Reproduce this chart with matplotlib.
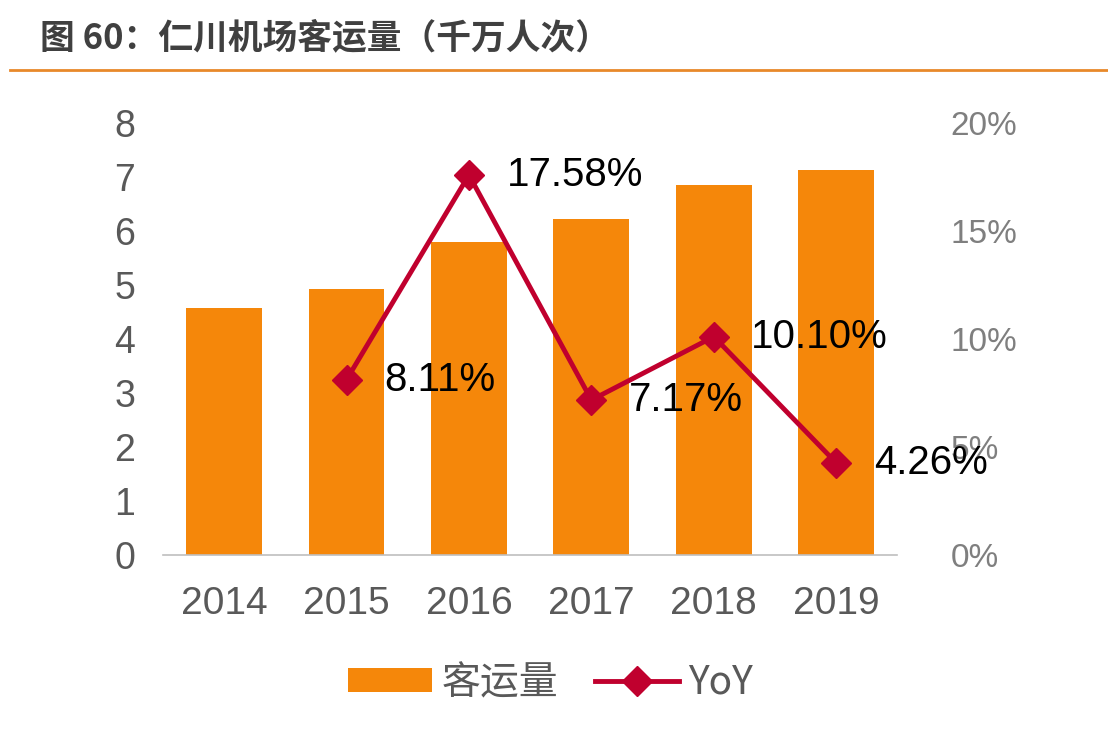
import matplotlib
matplotlib.use("Agg")
import matplotlib.pyplot as plt
from matplotlib.lines import Line2D
from matplotlib.patches import Patch

plt.rcParams['font.family'] = ['Noto Sans CJK SC', 'DejaVu Sans']

years = ["2014", "2015", "2016", "2017", "2018", "2019"]
passengers = [4.57, 4.93, 5.80, 6.22, 6.85, 7.13]
yoy_years = ["2015", "2016", "2017", "2018", "2019"]
yoy = [8.11, 17.58, 7.17, 10.10, 4.26]
left_ticks = [0, 1, 2, 3, 4, 5, 6, 7, 8]
right_ticks = [0, 5, 10, 15, 20]

bar_color = "#F5870A"
line_color = "#C0002E"
tick_gray = "#595959"
arial = "Liberation Sans"

fig = plt.figure(figsize=(11.08, 7.48), dpi=100)
ax = fig.add_axes([0.147, 0.258, 0.663, 0.578])
ax2 = ax.twinx()

x = list(range(len(years)))
ax.bar(x, passengers, width=0.62, color=bar_color, zorder=2)
ax.set_xlim(-0.5, 5.5)
ax.set_ylim(0, 8)
ax.set_yticks(left_ticks)
ax.set_yticklabels([str(t) for t in left_ticks], fontsize=27, color=tick_gray, family=arial)
ax.set_xticks(x)
ax.set_xticklabels(years, fontsize=28, color=tick_gray, family=arial)
ax.tick_params(axis='both', length=0)
ax.tick_params(axis='x', pad=22)
ax.tick_params(axis='y', pad=20)
for s in ['top', 'left', 'right']:
    ax.spines[s].set_visible(False)
ax.spines['bottom'].set_color("#BFBFBF")
ax.spines['bottom'].set_linewidth(1.2)

xl = [years.index(y) for y in yoy_years]
ax2.plot(xl, yoy, color=line_color, lw=3.5, marker='D', markersize=15, zorder=3)
ax2.set_ylim(0, 20)
ax2.set_yticks(right_ticks)
ax2.set_yticklabels([f"{t}%" for t in right_ticks], fontsize=24, color="#7F7F7F", family=arial)
ax2.tick_params(axis='y', length=0, pad=38)
for s in ['top', 'left', 'right', 'bottom']:
    ax2.spines[s].set_visible(False)

for xi, v in zip(xl, yoy):
    ax2.annotate(f"{v:.2f}%", (xi, v), xytext=(27, 0), textcoords='offset points',
                 va='center', ha='left', fontsize=29, color='black', family=arial, zorder=5)

fig.text(0.036, 0.949, "图 60：仁川机场客运量（千万人次）", fontsize=25, fontweight='bold',
         color="#404040", va='center', ha='left')
fig.add_artist(Line2D([0.009, 1.0], [0.906, 0.906], color="#E8892A", lw=2, transform=fig.transFigure))

handles = [Patch(facecolor=bar_color, edgecolor='none'),
           Line2D([0], [0], color=line_color, lw=3.5, marker='D', markersize=15)]
leg = fig.legend(handles, ["客运量", "YoY"], loc='center', bbox_to_anchor=(0.497, 0.087),
                 ncol=2, frameon=False, fontsize=28, handlelength=2.15, handleheight=0.55,
                 columnspacing=0.95, handletextpad=0.25)
for t in leg.get_texts():
    t.set_color(tick_gray)

fig.savefig("out.png", dpi=100)
